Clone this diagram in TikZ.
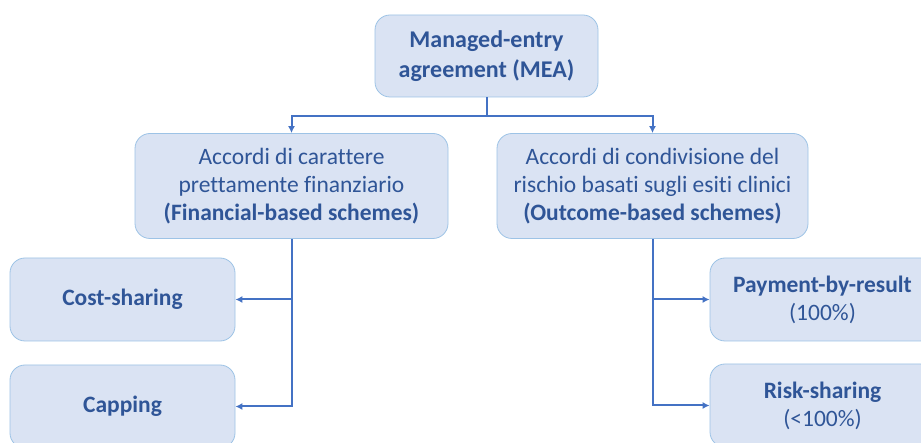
\documentclass[tikz,border=0pt]{standalone}
\usepackage{fontspec}
\setmainfont{Carlito}[Ligatures=NoCommon]
\usetikzlibrary{arrows.meta}
\definecolor{boxfill}{HTML}{DAE3F3}
\definecolor{boxline}{HTML}{9DC3E6}
\definecolor{txt}{HTML}{2F5597}
\definecolor{conn}{HTML}{4472C4}
\tikzset{
  box/.style={draw=boxline, fill=boxfill, rounded corners=15pt, line width=0.8pt,
    text=txt, align=center, inner sep=0pt, font=\fontsize{23.5}{28}\selectfont},
  conline/.style={draw=conn, line width=2pt},
  arr/.style={conline, -{Latex[length=7pt,width=7pt]}}
}
\begin{document}
\begin{tikzpicture}[x=1pt,y=-1pt]
\useasboundingbox[fill=white] (0,0) rectangle (921,443);
\node[box, minimum width=223pt, minimum height=82pt, font=\fontsize{24}{30}\selectfont] (mea) at (486.5,56)
  {\textbf{Managed-entry}\\\textbf{agreement (MEA)}};
\node[box, minimum width=313pt, minimum height=105pt] (fin) at (291.5,186)
  {Accordi di carattere\\prettamente finanziario\\\textbf{(Financial-based schemes)}};
\node[box, minimum width=311pt, minimum height=105pt] (out) at (652.5,186)
  {Accordi di condivisione del\\rischio basati sugli esiti clinici\\\textbf{(Outcome-based schemes)}};
\node[box, minimum width=225pt, minimum height=83pt] (cost) at (122.5,299.5)
  {\textbf{Cost-sharing}};
\node[box, minimum width=225pt, minimum height=83pt] (cap) at (122.5,406.5)
  {\textbf{Capping}};
\node[box, minimum width=225pt, minimum height=83pt] (pay) at (822.5,299.5)
  {\textbf{Payment-by-result}\\(100\%)};
\node[box, minimum width=225pt, minimum height=83pt] (risk) at (822.5,405.5)
  {\textbf{Risk-sharing}\\(<100\%)};
\coordinate (j) at (486.5,116.5);
\draw[conline] (mea.south) -- (j);
\draw[arr] (j) -| (fin.north);
\draw[arr] (j) -| (out.north);
\draw[arr] (fin.south) |- (cap.east);
\draw[arr] (fin.south |- cost.east) -- (cost.east);
\draw[arr] (out.south) |- (risk.west);
\draw[arr] (out.south |- pay.west) -- (pay.west);
\end{tikzpicture}
\end{document}
